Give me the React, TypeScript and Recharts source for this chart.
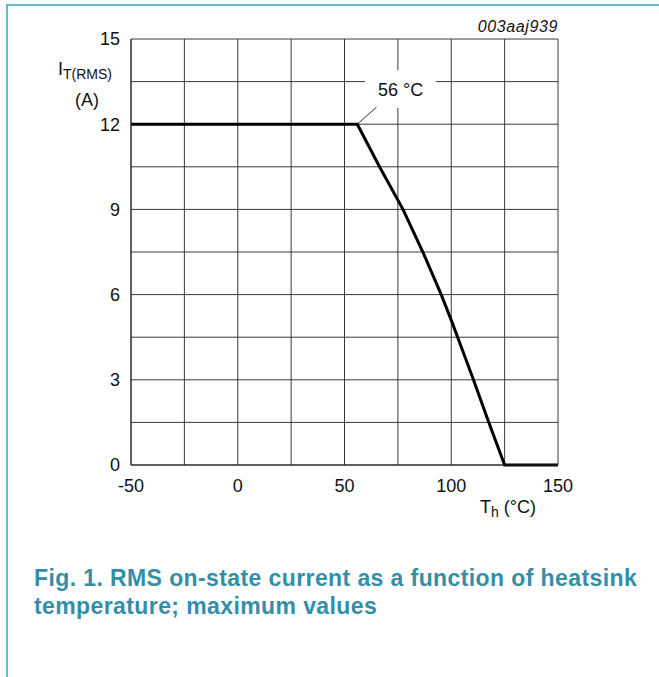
import React from "react";
import {
  LineChart,
  Line,
  XAxis,
  YAxis,
  CartesianGrid,
  ReferenceArea,
  ReferenceLine,
} from "recharts";

// heatsink temperature (°C) and max RMS on-state current (A)
const temps = [-50, 56, 66.4, 77.4, 86.7, 95.3, 100, 103, 110.4, 117.6, 125, 150];
const currents = [12, 12, 10.5, 9, 7.5, 6, 5.1, 4.5, 3, 1.5, 0, 0];

const xTicks = [-50, 0, 50, 100, 150];
const yTicks = [0, 3, 6, 9, 12, 15];
const xGrid = [-50, -25, 0, 25, 50, 75, 100, 125, 150];
const yGrid = [0, 1.5, 3, 4.5, 6, 7.5, 9, 10.5, 12, 13.5, 15];

// knee annotation (data units)
const kneeLabel = "56 °C";
const kneePoint = { x: 56, y: 12 };
const leaderEnd = { x: 65, y: 12.6 };
const labelBox = { x1: 59.6, x2: 92.9, y1: 12.57, y2: 13.9 };

const data = temps.map((t, i) => ({ t, i: currents[i] }));

const FONT = "'Liberation Sans', Arial, sans-serif";
const TEAL = "#338ea8";

export default function App() {
  return (
    <div
      style={{
        position: "absolute",
        left: 0,
        top: 0,
        width: 659,
        height: 677,
        background: "#fff",
        fontFamily: FONT,
        overflow: "hidden",
      }}
    >
      <div
        style={{
          position: "absolute",
          left: 6,
          top: 4,
          width: 660,
          height: 680,
          borderTop: `2px solid #6fb9cd`,
          borderLeft: `2px solid #6fb9cd`,
        }}
      />
      <LineChart
        width={659}
        height={677}
        data={data}
        margin={{ top: 39, right: 101, left: 0, bottom: 182 }}
      >
        <CartesianGrid
          stroke="#3a3a3a"
          strokeWidth={1}
          horizontalValues={yGrid}
          verticalValues={xGrid}
        />
        <XAxis
          dataKey="t"
          type="number"
          domain={[-50, 150]}
          ticks={xTicks}
          height={30}
          axisLine={{ stroke: "#222" }}
          tickLine={false}
          tickSize={12}
          tick={{ fill: "#111", fontSize: 18, fontFamily: FONT }}
        />
        <YAxis
          dataKey="i"
          type="number"
          domain={[0, 15]}
          ticks={yTicks}
          width={131}
          axisLine={{ stroke: "#222" }}
          tickLine={false}
          tickSize={9}
          tick={{ fill: "#111", fontSize: 18, fontFamily: FONT }}
        />
        <ReferenceLine
          segment={[kneePoint, leaderEnd]}
          stroke="#333"
          strokeWidth={1}
        />
        <ReferenceArea
          x1={labelBox.x1}
          x2={labelBox.x2}
          y1={labelBox.y1}
          y2={labelBox.y2}
          fill="#fff"
          fillOpacity={1}
          stroke="none"
          label={{
            value: kneeLabel,
            position: "center",
            fill: "#111",
            fontSize: 18,
            fontFamily: FONT,
          }}
        />
        <Line
          type="linear"
          dataKey="i"
          stroke="#000"
          strokeWidth={3}
          dot={false}
          isAnimationActive={false}
        />
      </LineChart>

      <div
        style={{
          position: "absolute",
          right: 659 - 558,
          top: 18,
          fontSize: 16,
          letterSpacing: 0.6,
          fontStyle: "italic",
          color: "#111",
        }}
      >
        003aaj939
      </div>

      <div
        style={{
          position: "absolute",
          left: 58,
          top: 59,
          fontSize: 18,
          color: "#111",
          lineHeight: "20px",
          whiteSpace: "nowrap",
        }}
      >
        I<sub style={{ fontSize: 14, verticalAlign: "-4px" }}>T(RMS)</sub>
      </div>
      <div
        style={{
          position: "absolute",
          left: 75,
          top: 89,
          fontSize: 18,
          color: "#111",
          lineHeight: "22px",
        }}
      >
        (A)
      </div>

      <div
        style={{
          position: "absolute",
          left: 480,
          top: 496,
          fontSize: 18,
          color: "#111",
          lineHeight: "22px",
          whiteSpace: "nowrap",
        }}
      >
        T<sub style={{ fontSize: 14, verticalAlign: "-4px" }}>h</sub> (°C)
      </div>

      <div
        style={{
          position: "absolute",
          left: 34,
          top: 564,
          fontSize: 23,
          letterSpacing: 0.4,
          fontWeight: "bold",
          color: TEAL,
          lineHeight: "28px",
          width: 625,
          whiteSpace: "nowrap",
        }}
      >
        Fig. 1. RMS on-state current as a function of heatsink
        <br />
        temperature; maximum values
      </div>
    </div>
  );
}
